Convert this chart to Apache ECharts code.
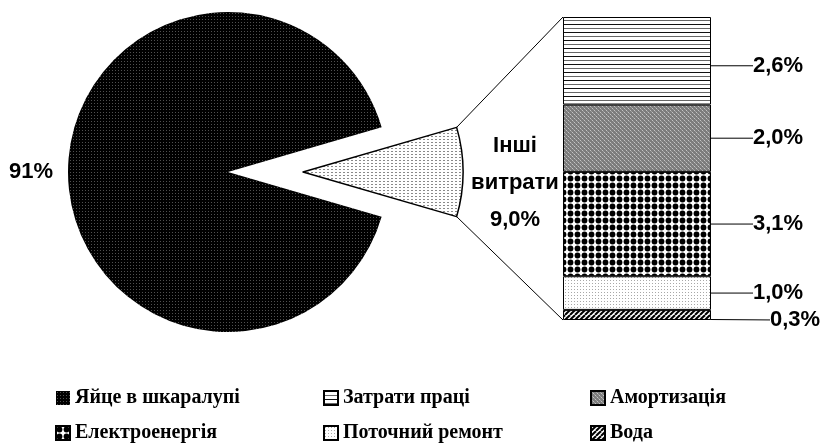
<!DOCTYPE html>
<html>
<head>
<meta charset="utf-8">
<script src="https://cdn.jsdelivr.net/npm/echarts@6/dist/echarts.min.js"></script>
<style>
  html, body { margin: 0; padding: 0; background: #fff; }
  #main { width: 824px; height: 445px; }
</style>
</head>
<body>
<div id="main"></div>
<script>
// пиріг: основна стаття та інші витрати
const pieNames = ['Інші витрати', 'Яйце в шкаралупі'];
const pieValues = [9.0, 91.0];
// стовпчик: розклад інших витрат, знизу вгору
const barNames = ['Вода', 'Поточний ремонт', 'Електроенергія', 'Амортизація', 'Затрати праці'];
const barValues = [0.3, 1.0, 3.1, 2.0, 2.6];
const barCategory = ['Інші витрати'];

// візерунки заливки (як у Excel)
function tile(w, h, draw) {
  const c = document.createElement('canvas');
  c.width = w; c.height = h;
  const ctx = c.getContext('2d');
  draw(ctx);
  return { image: c, repeat: 'repeat' };
}
const patEgg = tile(3, 3, (g) => {
  g.fillStyle = '#000'; g.fillRect(0, 0, 3, 3);
  g.fillStyle = '#505050'; g.fillRect(1, 1, 1, 1);
});
const patOther = tile(4, 3, (g) => {
  g.fillStyle = '#fff'; g.fillRect(0, 0, 4, 3);
  g.fillStyle = '#8a8a8a'; g.fillRect(0, 1, 2, 1);
});
const patLabour = tile(1, 8, (g) => {
  g.fillStyle = '#fff'; g.fillRect(0, 0, 1, 8);
  g.fillStyle = '#111'; g.fillRect(0, 0, 1, 1);
  g.fillStyle = '#666'; g.fillRect(0, 4, 1, 1);
});
const patAmort = tile(4, 4, (g) => {
  g.fillStyle = '#7c7c7c'; g.fillRect(0, 0, 4, 4);
  g.fillStyle = '#c4c4c4'; g.fillRect(0, 0, 1, 1); g.fillRect(2, 2, 1, 1);
  g.fillStyle = '#a0a0a0'; g.fillRect(1, 1, 1, 1); g.fillRect(3, 3, 1, 1);
});
const patElec = tile(7, 7, (g) => {
  g.fillStyle = '#fff'; g.fillRect(0, 0, 7, 7);
  g.fillStyle = '#000';
  g.beginPath(); g.arc(3.5, 3.5, 2.9, 0, Math.PI * 2); g.fill();
});
const patRepair = tile(3, 3, (g) => {
  g.fillStyle = '#fff'; g.fillRect(0, 0, 3, 3);
  g.fillStyle = '#a8a8a8'; g.fillRect(1, 1, 1, 1);
});
const patWater = tile(5, 5, (g) => {
  g.fillStyle = '#fff'; g.fillRect(0, 0, 5, 5);
  g.strokeStyle = '#000'; g.lineWidth = 2;
  [-5, 0, 5].forEach((k) => {
    g.beginPath(); g.moveTo(k, 5); g.lineTo(k + 5, 0); g.stroke();
  });
});
const barPatterns = [patWater, patRepair, patElec, patAmort, patLabour];

const fmt = (v) => v.toFixed(1).replace('.', ',') + '%';

const pieCenter = [228, 172];
const pieR = 160;
const explode = 75;
const halfAngle = pieValues[0] / (pieValues[0] + pieValues[1]) * 180;
const gridBox = { left: 563, top: 17, width: 148, height: 303 };
const barTotal = barValues.reduce((a, b) => a + b, 0);

const labelFont = {
  color: '#000',
  fontFamily: 'Liberation Sans, Arial',
  fontWeight: 'bold',
  fontSize: 22,
};
const legendText = {
  color: '#000',
  fontFamily: 'Liberation Serif, Times New Roman',
  fontWeight: 'bold',
  fontSize: 20,
  lineHeight: 22,
};
function legendCol(left, names) {
  return {
    orient: 'vertical',
    left: left,
    top: 382,
    height: 60,
    itemWidth: 14,
    itemHeight: 14,
    itemGap: 13,
    icon: 'rect',
    selectedMode: false,
    textStyle: legendText,
    data: names,
  };
}

let chartDom = document.getElementById('main');
let myChart = echarts.init(chartDom);

let option = {
  animation: false,
  legend: [
    legendCol(50, ['Яйце в шкаралупі', 'Електроенергія']),
    legendCol(318, ['Затрати праці', 'Поточний ремонт']),
    legendCol(585, ['Амортизація', 'Вода']),
  ],
  grid: gridBox,
  xAxis: { type: 'category', data: barCategory, show: false },
  yAxis: { type: 'value', min: 0, max: barTotal, show: false },
  series: [
    {
      type: 'pie',
      center: pieCenter,
      radius: pieR,
      startAngle: halfAngle,
      selectedMode: 'single',
      selectedOffset: explode,
      emphasis: { disabled: true },
      label: {
        show: true,
        position: 'outside',
        overflow: 'none',
        ...labelFont,
        rich: {
          c: { ...labelFont, width: 90, align: 'center', lineHeight: 37 },
        },
        formatter: (p) => p.dataIndex === 0
          ? ['Інші', 'витрати', fmt(p.value)].map((s) => '{c|' + s + '}').join('\n')
          : Math.round(p.value) + '%',
      },
      labelLine: { show: false, length: 5, length2: 5 },
      labelLayout: (p) => p.dataIndex === 0 ? { dx: -8, dy: 11 } : {},
      data: [
        {
          name: pieNames[0], value: pieValues[0], selected: true,
          itemStyle: { color: patOther, borderColor: '#000', borderWidth: 1.5 },
        },
        {
          name: pieNames[1], value: pieValues[1],
          itemStyle: { color: patEgg, borderWidth: 0 },
        },
      ],
    },
    ...barNames.map((name, i) => ({
      type: 'bar',
      name: name,
      stack: 'other',
      barWidth: '100%',
      emphasis: { disabled: true },
      data: [barValues[i]],
      itemStyle: { color: barPatterns[i], borderColor: '#000', borderWidth: 1 },
      label: {
        show: true,
        position: 'right',
        distance: 0,
        ...labelFont,
        formatter: (p) => fmt(p.value),
      },
      labelLine: { show: true, lineStyle: { color: '#000', width: 1 } },
      labelLayout: i === 0 ? { dx: 59, dy: 5 } : (i === 4 ? { dx: 42, dy: 5 } : { dx: 42 }),
    })),
  ],
};

option && myChart.setOption(option);

// сполучні лінії від вирізаного сектора до стовпчика
const apexX = pieCenter[0] + explode;
const rad = halfAngle * Math.PI / 180;
const arcTop = [apexX + pieR * Math.cos(rad), pieCenter[1] - pieR * Math.sin(rad)];
const arcBot = [apexX + pieR * Math.cos(rad), pieCenter[1] + pieR * Math.sin(rad)];
const barTop = [gridBox.left, gridBox.top];
const barBot = [gridBox.left, gridBox.top + gridBox.height];
myChart.setOption({
  graphic: [
    { type: 'line', shape: { x1: arcTop[0], y1: arcTop[1], x2: barTop[0], y2: barTop[1] }, style: { stroke: '#000', lineWidth: 1 } },
    { type: 'line', shape: { x1: arcBot[0], y1: arcBot[1], x2: barBot[0], y2: barBot[1] }, style: { stroke: '#000', lineWidth: 1 } },
  ],
});
</script>
</body>
</html>
